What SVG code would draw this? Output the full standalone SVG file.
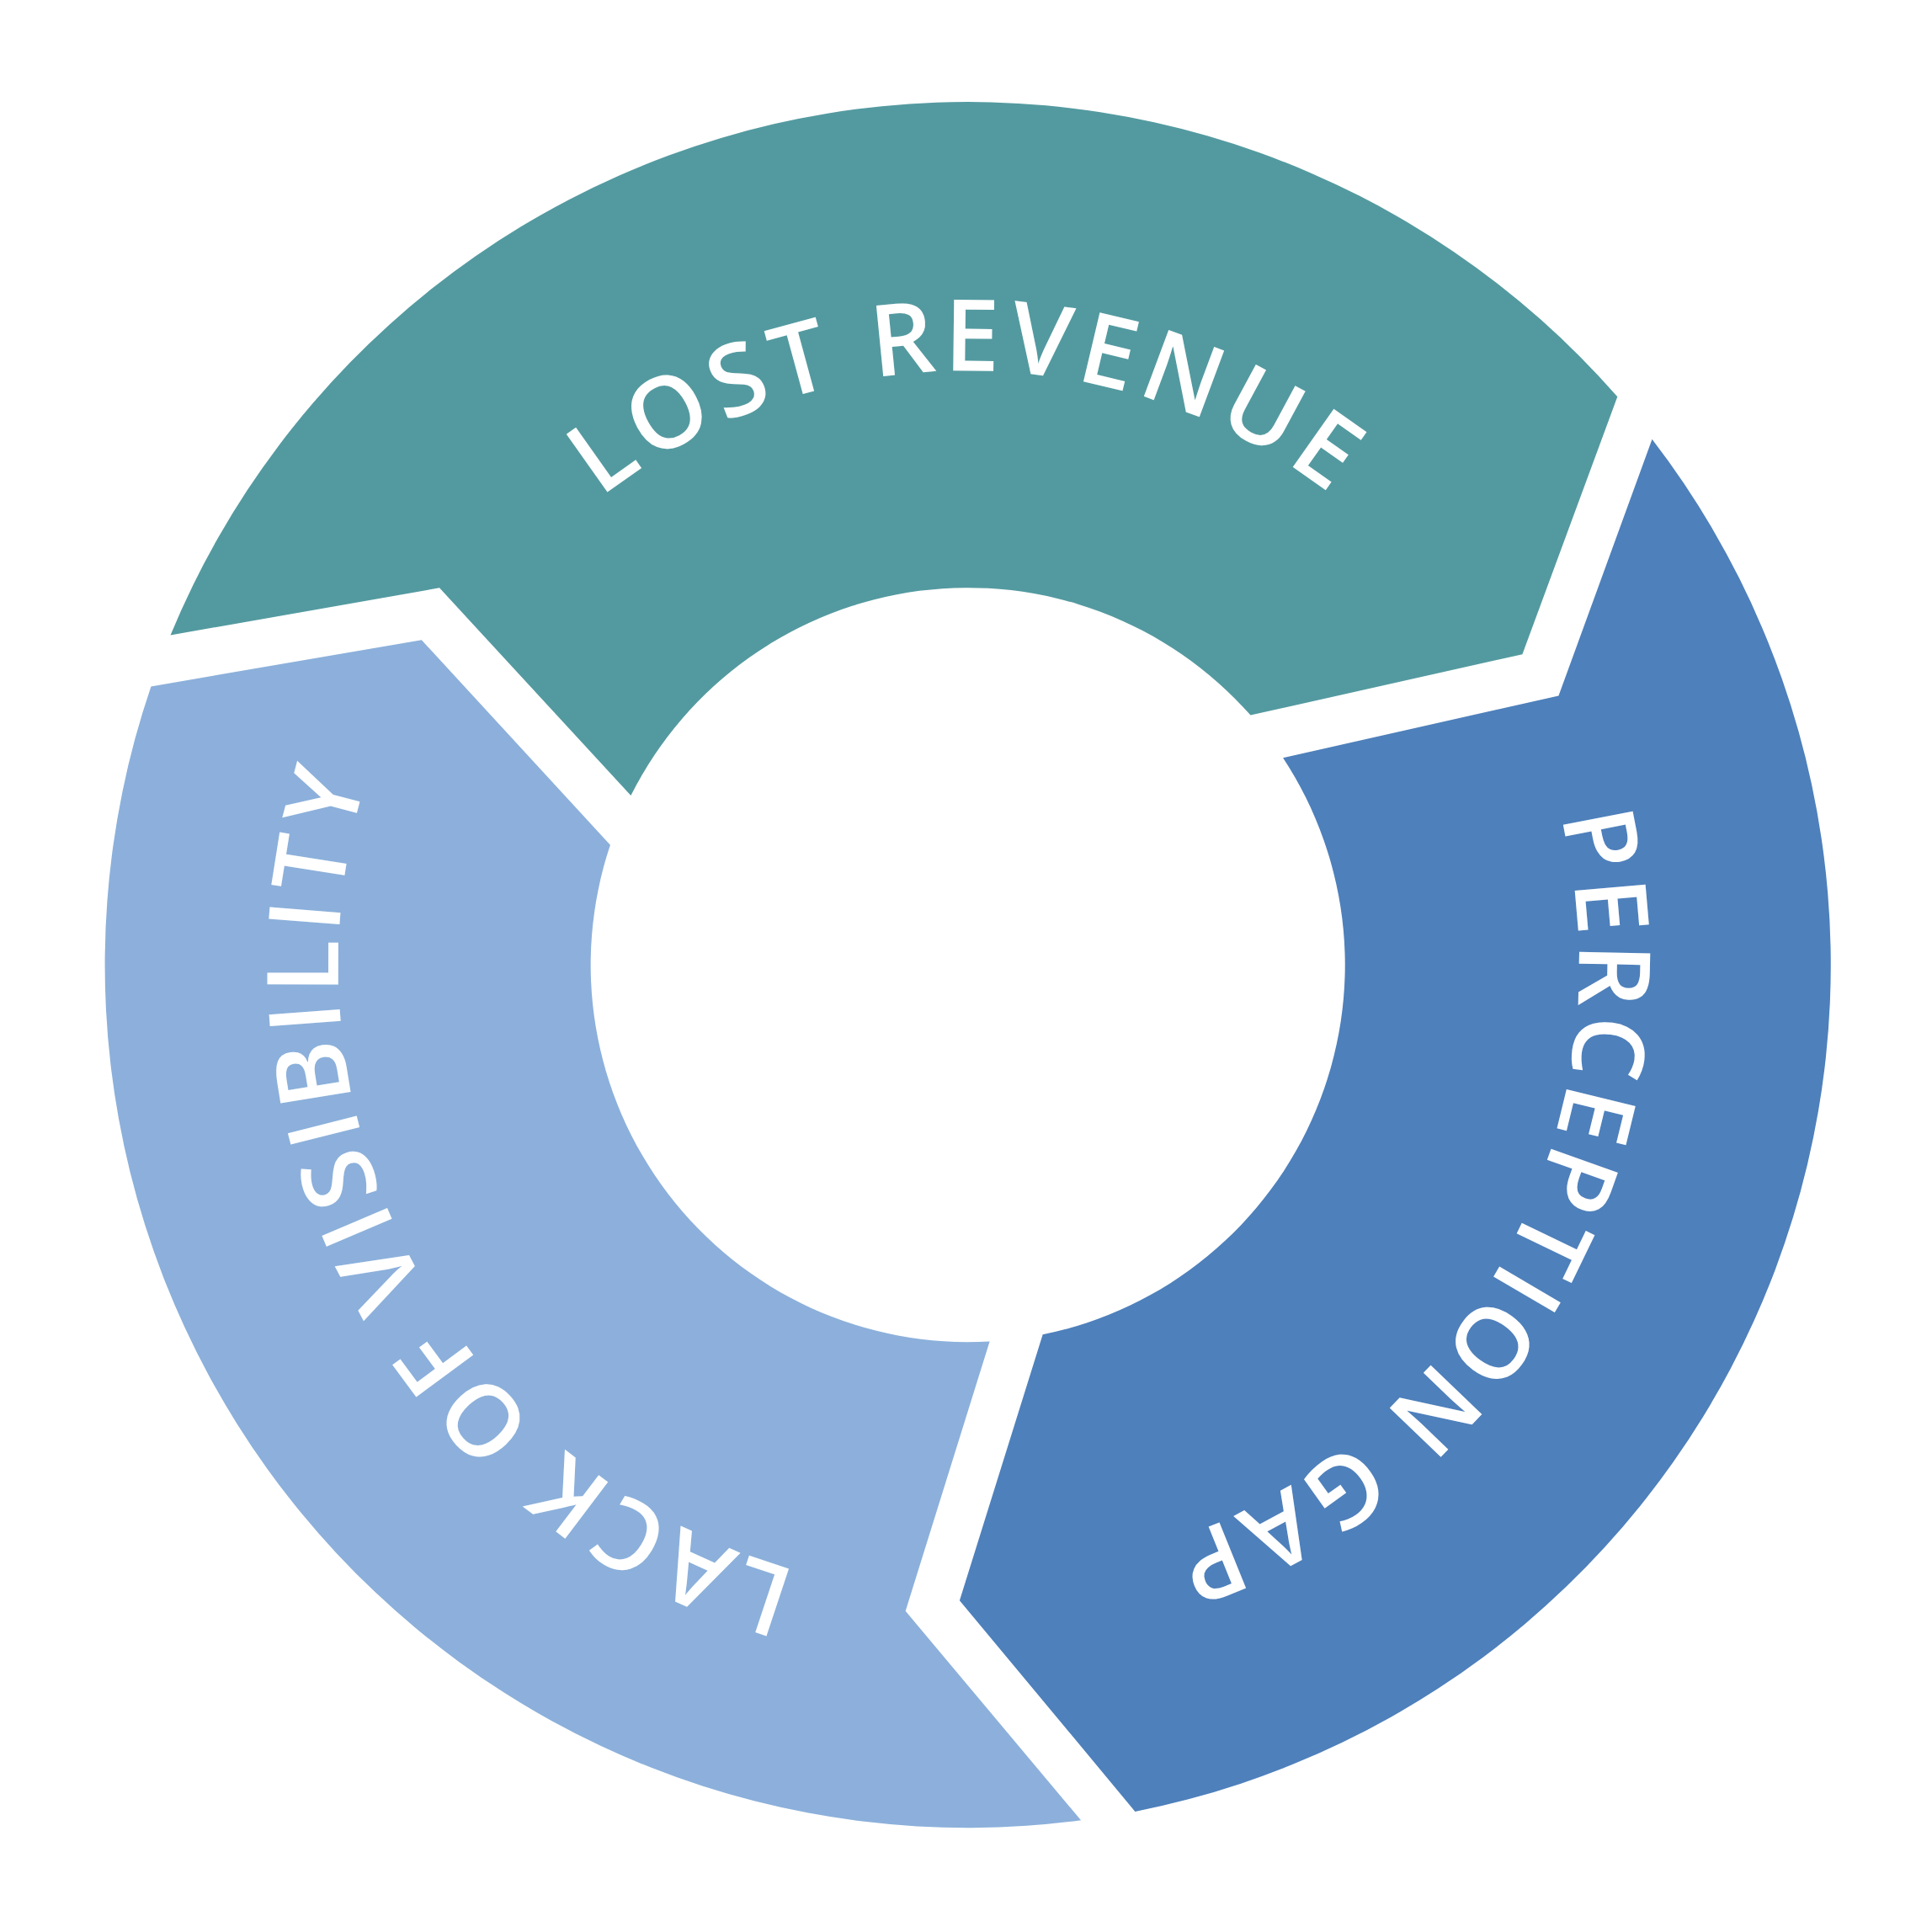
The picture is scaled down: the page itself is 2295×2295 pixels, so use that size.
<svg xmlns="http://www.w3.org/2000/svg" xmlns:xlink="http://www.w3.org/1999/xlink" width="2295" height="2295" viewBox="0 0 2295 2295">
<style>
.label{font-family:'Open Sans','Noto Sans','DejaVu Sans',sans-serif;font-size:118px;font-weight:600;fill:#ffffff}
</style>
<defs>
<path id="seg" d="M 202.5 754.5 A 1025 1025 0 0 1 1921.3 471.3 L 1808.4 777.2 L 1485.5 849.6 A 448 448 0 0 0 749.4 945.0 L 522.0 698.3 Z"/>
<path id="arc-lost" d="M 454.4 1268.8 A 706 706 0 1 1 1845.0 1268.8" fill="none"/>
<path id="arc-gap" d="M 1380.1 457.7 A 726 726 0 1 1 697.8 1714.4" fill="none"/>
<path id="arc-vis" d="M 1613.2 1733.3 A 748 748 0 1 1 914.8 436.0" fill="none"/>
</defs>
<rect width="2295" height="2295" fill="#ffffff"/>
<g id="lost-revenue">
<use href="#seg" xlink:href="#seg" fill="#539AA0"/>
<text class="label" letter-spacing="8"><textPath href="#arc-lost" xlink:href="#arc-lost" startOffset="50%" text-anchor="middle">LOST REVENUE</textPath></text>
</g>
<g id="perception-gap">
<use href="#seg" xlink:href="#seg" fill="#4E80BB" transform="rotate(120 1149.7 1146.2)"/>
<text class="label" letter-spacing="7"><textPath href="#arc-gap" xlink:href="#arc-gap" startOffset="50%" text-anchor="middle">PERCEPTION GAP</textPath></text>
</g>
<g id="lack-of-visibility">
<use href="#seg" xlink:href="#seg" fill="#8CB0DB" transform="rotate(240 1149.7 1146.2)"/>
<text class="label" letter-spacing="7.3"><textPath href="#arc-vis" xlink:href="#arc-vis" startOffset="50%" text-anchor="middle">LACK OF VISIBILITY</textPath></text>
</g>
</svg>
